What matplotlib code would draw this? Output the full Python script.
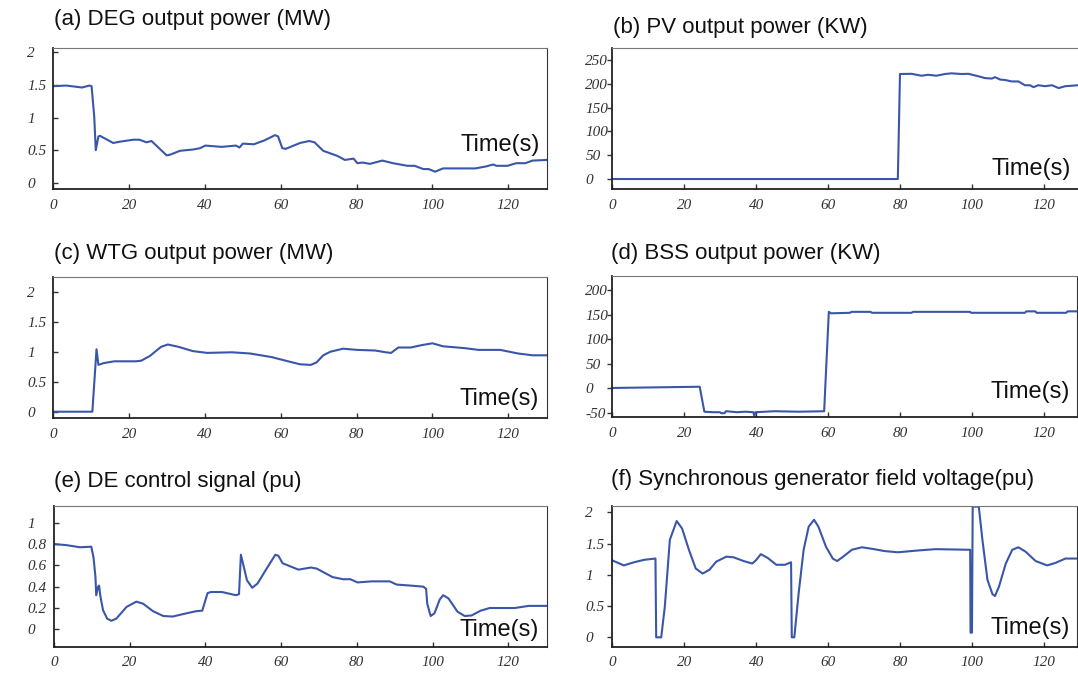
import matplotlib
matplotlib.use('Agg')
import matplotlib.pyplot as plt

# (a) DEG output power (MW)
deg_t = [0, 3.4, 7.6, 9.5, 10.1, 10.8, 11.2, 11.9, 12.3, 15.8, 17.6, 21.1, 22.7, 24.6, 25.9, 29.9, 30.8, 33.4, 36.9, 38.7,
         40.1, 44.4, 48.2, 49.1, 50.0, 52.9, 55.7, 58.5, 59.3, 60.4, 61.3, 65.1, 67.5, 68.9, 71.2, 73.1, 75.0, 76.9, 79.2, 80.2,
         81.6, 83.5, 86.8, 89.6, 93.4, 95.3, 97.6, 99.0, 100.7, 102.8, 106.6, 111.3, 114.1, 116.0, 116.9, 119.8, 122.1, 124.5, 126.4, 130.3]
deg_p = [1.48, 1.49, 1.46, 1.49, 1.48, 1.01, 0.50, 0.71, 0.72, 0.61, 0.63, 0.66, 0.66, 0.62, 0.64, 0.42, 0.43, 0.49, 0.51, 0.53,
         0.57, 0.55, 0.57, 0.54, 0.60, 0.59, 0.65, 0.73, 0.71, 0.53, 0.52, 0.61, 0.64, 0.62, 0.49, 0.45, 0.41, 0.35, 0.37, 0.30,
         0.31, 0.29, 0.34, 0.30, 0.26, 0.26, 0.21, 0.21, 0.17, 0.22, 0.22, 0.22, 0.25, 0.28, 0.26, 0.26, 0.30, 0.30, 0.34, 0.35]

# (b) PV output power (KW)
pv_t = [0, 79.3, 79.9, 83.1, 85.9, 87.7, 90.0, 92.4, 94.2, 97.0, 98.9, 101.6, 103.5, 105.4, 106.3, 107.7, 109.1, 110.9,
        112.8, 114.6, 116.0, 117.0, 118.3, 120.2, 122.1, 124.0, 125.8, 129.4]
pv_p = [0, 0, 220.6, 221, 217, 219, 217, 220.6, 222, 220.6, 221, 216, 212, 211, 214, 209, 208, 205,
        205, 197, 197, 193, 197, 195, 197, 191, 195, 197]

# (c) WTG output power (MW)
wtg_t = [0, 10.3, 11.4, 11.9, 13.3, 16.1, 21.8, 23.2, 25.5, 28.4, 30.2, 33.1, 36.8, 40.6, 47.2, 51.9, 57.6, 61.3, 65.1, 67.9,
         69.4, 71.2, 73.1, 76.4, 80.2, 84.9, 87.7, 89.1, 91.0, 94.3, 97.2, 100.0, 102.8, 108.4, 112.2, 117.9, 122.6, 126.4, 130.3]
wtg_p = [0, 0, 1.04, 0.78, 0.81, 0.84, 0.84, 0.85, 0.93, 1.08, 1.12, 1.08, 1.01, 0.98, 0.99, 0.97, 0.91, 0.85, 0.79, 0.78,
         0.82, 0.94, 1.00, 1.05, 1.03, 1.02, 0.99, 0.98, 1.07, 1.07, 1.11, 1.14, 1.09, 1.06, 1.03, 1.03, 0.97, 0.94, 0.94]

# (d) BSS output power (KW)
bss_t = [0, 24.3, 25.6, 27.9, 29.9, 30.3, 31.2, 31.6, 34.6, 37.0, 39.2, 39.5, 39.8, 45.1, 51.8, 58.9, 60.2, 60.8, 66.1, 66.5,
         71.8, 72.2, 83.2, 83.6, 99.4, 99.8, 114.7, 115.1, 117.6, 118.0, 126.2, 126.6, 129.3]
bss_p = [0.5, 3, -48, -49, -49, -51, -51, -47, -49, -48, -49, -57, -49, -47, -48, -47, 156, 153, 154, 156,
         156, 154, 154, 156, 156, 154, 154, 157, 157, 154, 154, 157, 157]

# (e) DE control signal (pu)
de_t = [0, 3.3, 6.9, 9.9, 10.5, 11.0, 11.2, 11.7, 11.96, 12.3, 13.0, 14.1, 15.2, 16.5, 19.2, 21.8, 23.6, 26.2, 28.9, 31.4,
        35.0, 37.6, 39.2, 40.6, 41.5, 44.4, 48.1, 48.9, 49.4, 51.0, 52.4, 53.8, 56.2, 58.5, 59.3, 60.4, 61.8, 64.6, 67.9, 69.4,
        73.6, 76.4, 78.3, 80.2, 83.9, 87.7, 88.7, 90.5, 94.3, 97.6, 98.3, 98.6, 99.5, 100.5, 101.9, 102.8, 104.2, 106.6, 108.5, 110.3,
        112.7, 115.1, 117.9, 121.7, 125.4, 130.3]
de_p = [0.80, 0.79, 0.77, 0.775, 0.67, 0.49, 0.32, 0.40, 0.41, 0.31, 0.18, 0.10, 0.08, 0.10, 0.21, 0.26, 0.24, 0.17, 0.125, 0.12,
        0.15, 0.17, 0.175, 0.34, 0.35, 0.35, 0.32, 0.33, 0.70, 0.46, 0.39, 0.43, 0.57, 0.70, 0.69, 0.62, 0.60, 0.56, 0.58, 0.57,
        0.49, 0.47, 0.47, 0.44, 0.45, 0.45, 0.45, 0.42, 0.41, 0.40, 0.38, 0.24, 0.125, 0.15, 0.28, 0.32, 0.29, 0.165, 0.125, 0.13,
        0.175, 0.20, 0.20, 0.20, 0.22, 0.22]

# (f) Synchronous generator field voltage (pu)
fv_t = [0, 3.2, 6.0, 8.9, 12.0, 12.2, 13.6, 14.6, 16.0, 17.9, 19.4, 21.3, 23.2, 25.1, 27.0, 28.9, 31.7, 33.7, 36.5, 38.9,
        39.9, 41.3, 43.2, 45.6, 48.0, 49.7, 49.9, 50.6, 51.8, 53.2, 54.6, 56.1, 57.3, 59.4, 61.3, 62.5, 64.2, 66.6, 69.4, 72.8,
        75.6, 79.4, 85.2, 89.9, 99.5, 99.6, 100.0, 100.2, 101.9, 102.9, 104.3, 105.7, 106.4, 107.5, 109.4, 111.2, 112.9, 114.9, 117.7, 120.9,
        123.2, 126.0, 129.4]
fv_p = [1.23, 1.15, 1.20, 1.24, 1.26, 0, 0, 0.49, 1.56, 1.86, 1.74, 1.40, 1.10, 1.02, 1.08, 1.21, 1.29, 1.28, 1.22, 1.18,
        1.23, 1.33, 1.27, 1.16, 1.16, 1.20, 0, 0, 0.70, 1.40, 1.77, 1.88, 1.77, 1.45, 1.26, 1.22, 1.29, 1.40, 1.44, 1.41,
        1.38, 1.36, 1.39, 1.41, 1.40, 0.075, 0.075, 2.09, 2.09, 1.56, 0.92, 0.69, 0.66, 0.81, 1.18, 1.40, 1.44, 1.37, 1.22, 1.15,
        1.19, 1.26, 1.26]

titles = ['(a) DEG output power (MW)', '(b) PV output power (KW)', '(c) WTG output power (MW)',
          '(d) BSS output power (KW)', '(e) DE control signal (pu)', '(f) Synchronous generator field voltage(pu)']
ticks_05 = [0, 0.5, 1, 1.5, 2]
labels_05 = ['0', '0.5', '1', '1.5', '2']
ticks_pv = [0, 50, 100, 150, 200, 250]
ticks_bss = [-50, 0, 50, 100, 150, 200]
ticks_de = [0, 0.2, 0.4, 0.6, 0.8, 1]
labels_de = ['0', '0.2', '0.4', '0.6', '0.8', '1']
xticks = [0, 20, 40, 60, 80, 100, 120]

LINE = '#3a56a8'
W, H = 1078, 675
PX = 0.72  # points per pixel at dpi 100


def panel(box, t, p, ylim, yt, ylab, xmax, tick_dir, title, title_xy, time_xy):
    x0, y0, x1, y1 = box
    ax = fig.add_axes([x0 / W, 1 - y1 / H, (x1 - x0) / W, (y1 - y0) / H])
    ax.plot(t, p, color=LINE, lw=1.5, solid_joinstyle='round')
    ax.set_xlim(0, xmax)
    ax.set_ylim(*ylim)
    ax.set_xticks(xticks, [str(v) for v in xticks])
    ax.set_yticks(yt, ylab)
    for s in ['left', 'bottom']:
        ax.spines[s].set_color('#222')
        ax.spines[s].set_linewidth(1.3)
    ax.spines['top'].set_color('#777')
    ax.spines['right'].set_color('#333')
    tick_len = 5 * PX
    ax.tick_params(axis='x', direction='in', length=tick_len, width=1, color='#333', pad=7)
    ypad = 26 * PX if tick_dir == 'in' else 27 * PX - tick_len
    ax.tick_params(axis='y', direction=tick_dir, length=tick_len, width=1, color='#333', pad=ypad)
    for lab in ax.get_xticklabels() + ax.get_yticklabels():
        lab.set_fontfamily('Liberation Serif')
        lab.set_fontstyle('italic')
        lab.set_fontsize(11)
        lab.set_color('#333')
    for lab in ax.get_yticklabels():
        lab.set_horizontalalignment('left')
    ax.text(time_xy[0], time_xy[1], 'Time(s)', transform=ax.transAxes, ha='right', va='baseline',
            fontsize=17, family='Liberation Sans', color='#111')
    fig.text(title_xy[0] / W, 1 - title_xy[1] / H, title, ha='left', va='center',
             fontsize=16, family='Liberation Sans', color='#111')
    return ax


fig = plt.figure(figsize=(W / 100, H / 100), dpi=100)

panel((53.3, 47.7, 547.3, 189.3), deg_t, deg_p, (-0.10, 2.07), ticks_05, labels_05, 130.3, 'in',
      titles[0], (54, 20), (0.985, 0.27))
ax_b = panel((612.3, 48.3, 1077.5, 189.3), pv_t, pv_p, (-21.6, 274.6), ticks_pv, [str(v) for v in ticks_pv], 129.2, 'out',
             titles[1], (613, 28), (0.985, 0.10))
ax_b.spines['right'].set_visible(False)
panel((53.3, 276.7, 547.3, 418.3), wtg_t, wtg_p, (-0.11, 2.25), ticks_05, labels_05, 130.3, 'in',
      titles[2], (54, 253), (0.983, 0.094))
panel((612.3, 276.0, 1077.0, 417.0), bss_t, bss_p, (-58.8, 229.2), ticks_bss, [str(v) for v in ticks_bss], 129.2, 'out',
      titles[3], (611, 253), (0.985, 0.135))
panel((53.8, 506.0, 547.3, 646.7), de_t, de_p, (-0.163, 1.157), ticks_de, labels_de, 130.3, 'in',
      titles[4], (54, 482), (0.983, 0.076))
panel((612.3, 505.7, 1077.0, 646.7), fv_t, fv_p, (-0.15, 2.105), ticks_05, labels_05, 129.2, 'out',
      titles[5], (611, 480), (0.984, 0.09))

fig.savefig('out.png', dpi=100)
